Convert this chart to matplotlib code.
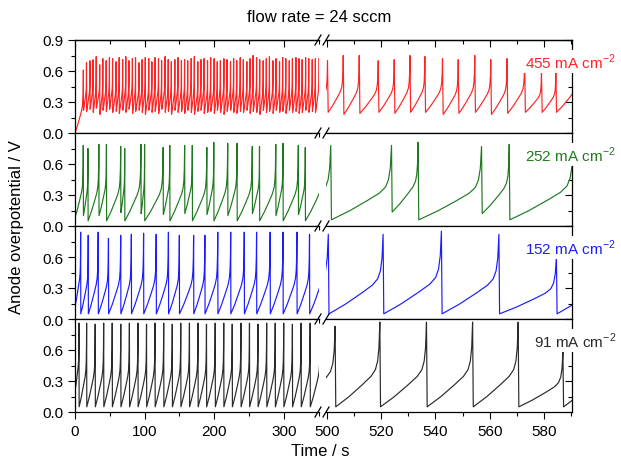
import numpy as np
import matplotlib.pyplot as plt
from matplotlib.lines import Line2D
from matplotlib.ticker import MultipleLocator
import matplotlib.transforms as mtransforms

plt.rcParams['font.family'] = ['Liberation Sans', 'DejaVu Sans']
plt.rcParams['mathtext.fontset'] = 'custom'
plt.rcParams['mathtext.rm'] = 'Liberation Sans'

# ---- data ----
# spike times (s), spike heights (V), and the trough value reached after each spike
red_left_start = (0.0, 0.0)
red_left_t = [12.0, 16.5, 21.5, 26.0, 30.5, 35.5, 40.0, 44.8, 49.5, 54.0,
              59.0, 63.5, 68.5, 73.0, 77.5, 82.5, 87.0, 92.0, 96.5, 101.0,
              106.0, 110.5, 115.0, 120.0, 124.5, 129.5, 134.0, 138.5, 143.5, 148.0,
              153.0, 157.5, 162.0, 167.0, 171.5, 176.5, 181.0, 185.5, 190.5, 195.0,
              200.0, 204.5, 209.0, 214.0, 218.5, 223.5, 228.0, 232.5, 237.5, 242.0,
              247.0, 251.5, 256.0, 261.0, 265.5, 270.5, 275.0, 279.5, 284.5, 289.0,
              294.0, 298.5, 303.0, 308.0, 312.5, 317.5, 322.0, 326.5, 331.5, 336.0,
              341.0, 345.5, 350.5]
red_left_peak = [0.61, 0.68, 0.70, 0.71, 0.74, 0.66, 0.72, 0.70, 0.73, 0.72,
                 0.69, 0.73, 0.71, 0.74, 0.70, 0.72, 0.73, 0.68, 0.71, 0.73,
                 0.72, 0.69, 0.73, 0.72, 0.70, 0.74, 0.71, 0.69, 0.71, 0.73,
                 0.70, 0.71, 0.70, 0.72, 0.74, 0.69, 0.71, 0.72, 0.70, 0.73,
                 0.72, 0.69, 0.70, 0.72, 0.71, 0.69, 0.72, 0.70, 0.73, 0.71,
                 0.69, 0.72, 0.75, 0.73, 0.71, 0.70, 0.72, 0.74, 0.70, 0.72,
                 0.69, 0.73, 0.72, 0.70, 0.72, 0.73, 0.72, 0.71, 0.73, 0.72,
                 0.71, 0.72, 0.72]
red_left_trough = [0.22, 0.21, 0.23, 0.20, 0.24, 0.18, 0.22, 0.21, 0.23, 0.20,
                   0.21, 0.19, 0.22, 0.20, 0.23, 0.19, 0.21, 0.22, 0.20, 0.18,
                   0.22, 0.20, 0.21, 0.19, 0.23, 0.20, 0.21, 0.18, 0.22, 0.20,
                   0.21, 0.19, 0.22, 0.20, 0.18, 0.21, 0.22, 0.19, 0.20, 0.21,
                   0.19, 0.22, 0.20, 0.18, 0.21, 0.22, 0.20, 0.19, 0.21, 0.20,
                   0.22, 0.19, 0.21, 0.20, 0.18, 0.22, 0.20, 0.21, 0.19, 0.22,
                   0.20, 0.21, 0.19, 0.22, 0.20, 0.21, 0.19, 0.20, 0.22, 0.20,
                   0.21, 0.20, 0.20]
red_right_start = (494.7, 0.20)
red_right_t = [500.2, 506.0, 511.9, 518.9, 524.8, 530.6, 536.1, 542.6, 548.4, 554.5,
               560.4, 566.4, 572.9, 579.1, 584.4, 592.0]
red_right_peak = [0.70, 0.75, 0.75, 0.70, 0.71, 0.75, 0.74, 0.72, 0.71, 0.75,
                  0.71, 0.72, 0.73, 0.59, 0.60, 0.70]
red_right_trough = [0.20, 0.18, 0.19, 0.20, 0.19, 0.20, 0.20, 0.18, 0.19, 0.20,
                    0.18, 0.19, 0.20, 0.20, 0.20, 0.20]

green_left_start = (0.0, 0.08)
green_left_t = [11.9, 18.6, 34.3, 45.2, 65.7, 71.4, 94.8, 100.0, 126.7, 136.2,
                157.6, 168.6, 189.5, 199.5, 219.5, 232.9, 254.8, 265.2, 288.6, 299.0,
                321.0, 331.0, 356.0]
green_left_peak = [0.78, 0.75, 0.79, 0.79, 0.77, 0.75, 0.79, 0.79, 0.76, 0.78,
                   0.78, 0.78, 0.76, 0.81, 0.80, 0.80, 0.77, 0.77, 0.79, 0.80,
                   0.78, 0.76, 0.78]
green_left_trough = [0.10, 0.05, 0.10, 0.05, 0.13, 0.05, 0.12, 0.05, 0.11, 0.05,
                     0.12, 0.05, 0.11, 0.05, 0.10, 0.05, 0.12, 0.05, 0.10, 0.05,
                     0.11, 0.05, 0.05]
green_right_start = (470.0, 0.06)
green_right_t = [482.0, 501.4, 523.8, 533.6, 557.0, 567.2, 590.8]
green_right_peak = [0.78, 0.78, 0.78, 0.81, 0.77, 0.79, 0.80]
green_right_trough = [0.06, 0.06, 0.135, 0.06, 0.12, 0.06, 0.06]

blue_left_start = (0.0, 0.12)
blue_left_t = [8.1, 19.0, 33.3, 48.1, 65.7, 81.0, 98.6, 116.7, 134.3, 150.0,
               170.5, 186.7, 205.2, 223.8, 243.3, 261.0, 280.5, 299.0, 319.0, 337.1,
               357.0]
blue_left_peak = [0.84, 0.81, 0.84, 0.78, 0.81, 0.82, 0.83, 0.82, 0.84, 0.81,
                  0.81, 0.81, 0.84, 0.84, 0.84, 0.84, 0.84, 0.84, 0.84, 0.82,
                  0.84]
blue_left_trough = [0.05] * 21
blue_right_start = (462.0, 0.05)
blue_right_t = [479.5, 500.5, 520.7, 542.2, 563.4, 584.6, 605.0]
blue_right_peak = [0.82, 0.82, 0.82, 0.85, 0.82, 0.60, 0.82]
blue_right_trough = [0.05] * 7

black_left_start = (0.0, 0.20)
black_left_t = [5.7, 16.7, 29.0, 41.2, 53.5, 65.8, 78.2, 90.5, 102.8, 115.0,
                127.5, 139.8, 152.0, 164.5, 176.8, 189.0, 201.5, 213.8, 226.0, 238.5,
                250.8, 263.0, 275.5, 287.8, 300.0, 312.5, 325.0, 338.0, 352.5]
black_left_peak = [0.86, 0.86, 0.85, 0.86, 0.86, 0.85, 0.86, 0.86, 0.85, 0.86,
                   0.86, 0.85, 0.86, 0.86, 0.86, 0.85, 0.86, 0.86, 0.85, 0.86,
                   0.86, 0.85, 0.86, 0.86, 0.86, 0.85, 0.86, 0.86, 0.86]
black_left_trough = [0.05] * 29
black_right_start = (486.3, 0.05)
black_right_t = [503.0, 519.5, 536.7, 553.7, 570.5, 587.0, 604.0]
black_right_peak = [0.83, 0.87, 0.87, 0.87, 0.87, 0.58, 0.87]
black_right_trough = [0.05] * 7

# shape of one charge-up ramp (fraction of cycle time, fraction of rise)
rise_t = [0.0, 0.3, 0.6, 0.8, 0.9, 0.95, 0.98, 1.0]
rise_v = [0.0, 0.12, 0.26, 0.36, 0.44, 0.54, 0.70, 1.0]

labels = ['455 mA cm$^{-2}$', '252 mA cm$^{-2}$', '152 mA cm$^{-2}$', '91 mA cm$^{-2}$']
colors = ['#ff2424', '#1f7a1f', '#1c1cff', '#2a2a2a']


def trace(start, spikes, peaks, troughs, drop=0.25):
    t, v = [], []
    t0, v0 = start
    for i in range(len(spikes)):
        for ft, fv in zip(rise_t, rise_v):
            t.append(t0 + ft * (spikes[i] - t0))
            v.append(v0 + fv * (peaks[i] - v0))
        t0, v0 = spikes[i] + drop, troughs[i]
    return t, v


series = [
    ((red_left_start, red_left_t, red_left_peak, red_left_trough),
     (red_right_start, red_right_t, red_right_peak, red_right_trough)),
    ((green_left_start, green_left_t, green_left_peak, green_left_trough),
     (green_right_start, green_right_t, green_right_peak, green_right_trough)),
    ((blue_left_start, blue_left_t, blue_left_peak, blue_left_trough),
     (blue_right_start, blue_right_t, blue_right_peak, blue_right_trough)),
    ((black_left_start, black_left_t, black_left_peak, black_left_trough),
     (black_right_start, black_right_t, black_right_peak, black_right_trough)),
]

W, H = 621, 464
fig = plt.figure(figsize=(W / 100, H / 100), dpi=100)

xl0, xl1 = 75, 318.5
xr0, xr1 = 325.6, 572.4
edges = [41, 134, 227, 320, 413]

for k in range(4):
    b = 1 - edges[k + 1] / H
    h = (edges[k + 1] - edges[k]) / H
    axl = fig.add_axes([xl0 / W, b, (xl1 - xl0) / W, h])
    axr = fig.add_axes([xr0 / W, b, (xr1 - xr0) / W, h])
    left, right = series[k]
    tl, vl = trace(*left)
    tr, vr = trace(*right)
    axl.plot(tl, vl, color=colors[k], lw=0.85)
    axr.plot(tr, vr, color=colors[k], lw=0.85)

    for ax in (axl, axr):
        ax.set_ylim(0, 0.9)
        ax.yaxis.set_major_locator(MultipleLocator(0.3))
        ax.yaxis.set_minor_locator(MultipleLocator(0.15))
        ax.tick_params(which='major', length=5, width=0.8, labelsize=11)
        ax.tick_params(which='minor', length=3, width=0.8)
        ax.tick_params(axis='x', which='both', direction='out', top=False,
                       labelbottom=(k == 3))
        for s in ax.spines.values():
            s.set_linewidth(0.9)
    axl.set_xlim(0, 350)
    axl.xaxis.set_major_locator(MultipleLocator(100))
    axl.xaxis.set_minor_locator(MultipleLocator(50))
    axl.spines['right'].set_visible(False)
    axl.tick_params(axis='y', which='both', direction='out', right=False)
    if k == 0:
        axl.set_yticks([0, 0.3, 0.6, 0.9])
        axl.set_yticklabels(['0.0', '0.3', '0.6', '0.9'])
    else:
        axl.set_yticks([0, 0.3, 0.6])
        axl.set_yticklabels(['0.0', '0.3', '0.6'])

    axr.set_xlim(499.5, 590.5)
    axr.xaxis.set_major_locator(MultipleLocator(20))
    axr.xaxis.set_minor_locator(MultipleLocator(10))
    axr.spines['left'].set_visible(False)
    axr.tick_params(axis='y', which='both', direction='in', left=False, right=True,
                    labelleft=False)

    trans = mtransforms.blended_transform_factory(axr.transAxes, axr.transData)
    axr.text(1.178, 0.69, labels[k], transform=trans, ha='right', va='center',
             color=colors[k], fontsize=11, clip_on=False, zorder=5,
             bbox=dict(facecolor='white', edgecolor='none', pad=1.5))

    if k == 0:
        # inward ticks on the top frame of the first panel
        for ax, major, minor in ((axl, 100, 50), (axr, 20, 10)):
            top = ax.secondary_xaxis('top')
            top.xaxis.set_major_locator(MultipleLocator(major))
            top.xaxis.set_minor_locator(MultipleLocator(minor))
            top.tick_params(which='both', direction='in', labeltop=False, width=0.8)
            top.tick_params(which='major', length=5)
            top.tick_params(which='minor', length=3)
            top.spines['top'].set_linewidth(0.9)

# axis break marks
for yy in edges:
    for xc in (318.0, 326.0):
        fig.add_artist(Line2D([(xc - 3) / W, (xc + 3) / W],
                              [1 - (yy + 5) / H, 1 - (yy - 5) / H],
                              transform=fig.transFigure, color='black', lw=0.9))

fig.text(319 / W, 1 - 18 / H, 'flow rate = 24 sccm', ha='center', va='center', fontsize=12)
fig.text(320 / W, 1 - 452 / H, 'Time / s', ha='center', va='center', fontsize=12)
fig.text(17 / W, 1 - 227 / H, 'Anode overpotential / V', ha='center', va='center',
         rotation=90, fontsize=12)

fig.savefig('out.png', dpi=100)
